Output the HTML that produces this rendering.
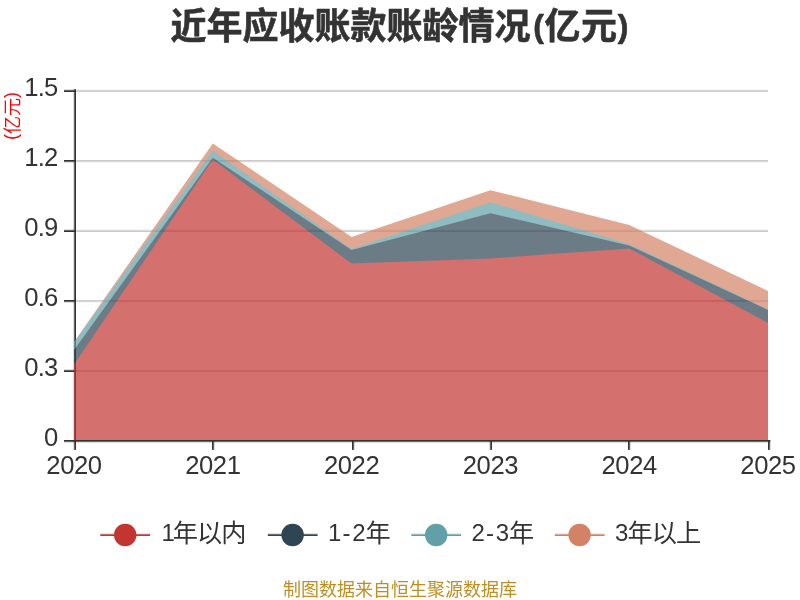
<!DOCTYPE html>
<html lang="zh-CN">
<head>
<meta charset="utf-8">
<title>近年应收账款账龄情况(亿元)</title>
<style>
  html, body { margin: 0; padding: 0; background: #ffffff; }
  body { width: 800px; height: 600px; overflow: hidden; }
  svg { display: block; will-change: transform; font-family: "Liberation Sans", "Noto Sans CJK SC", sans-serif; }
  .axis-label { font-size: 25.6px; fill: #333333; }
  .xl { letter-spacing: -0.4px; }
  .yl { letter-spacing: -0.8px; }
  .lc { font-size: 25.2px; letter-spacing: -0.9px; }
  .legend-label { font-size: 24px; fill: #333333; }
</style>
</head>
<body>
<svg width="800" height="600" viewBox="0 0 800 600">
  <defs>
    <clipPath id="gridclip"><rect x="74" y="80" width="694" height="360"/></clipPath>
  </defs>
  <rect x="0" y="0" width="800" height="600" fill="#ffffff"/>

  <!-- title -->
  <text x="399.5" y="38.8" text-anchor="middle" font-size="36" font-weight="bold" fill="#333333" stroke="#333333" stroke-width="0.6" stroke-linejoin="round">近年应收账款账龄情况<tspan font-size="32" dx="2.6" dy="-1.6">(</tspan><tspan dx="0.6" dy="1.6">亿</tspan><tspan dx="0.7">元</tspan><tspan font-size="32" dx="0.7" dy="-1.6">)</tspan></text>

  <!-- y axis name -->
  <text transform="translate(19,116) rotate(-90)" text-anchor="middle" font-size="18" fill="#ff0000"><tspan dy="-1.7">(</tspan><tspan dy="1.7">亿元</tspan><tspan dy="-1.7">)</tspan></text>

  <!-- split lines (soft 2px lines, drawn as 1px rows) -->
  <g fill="#cccccc">
    <rect x="76" y="91" width="692" height="1" fill-opacity="1.0"/>
    <rect x="76" y="90" width="692" height="1" fill-opacity="0.74"/>
    <rect x="76" y="89" width="692" height="1" fill-opacity="0.17"/>
    <rect x="76" y="160" width="692" height="1" fill-opacity="1.0"/>
    <rect x="76" y="161" width="692" height="1" fill-opacity="0.74"/>
    <rect x="76" y="162" width="692" height="1" fill-opacity="0.17"/>
    <rect x="76" y="231" width="692" height="1" fill-opacity="1.0"/>
    <rect x="76" y="230" width="692" height="1" fill-opacity="0.74"/>
    <rect x="76" y="229" width="692" height="1" fill-opacity="0.17"/>
    <rect x="76" y="300" width="692" height="1" fill-opacity="1.0"/>
    <rect x="76" y="301" width="692" height="1" fill-opacity="0.74"/>
    <rect x="76" y="302" width="692" height="1" fill-opacity="0.17"/>
    <rect x="76" y="371" width="692" height="1" fill-opacity="1.0"/>
    <rect x="76" y="370" width="692" height="1" fill-opacity="0.74"/>
    <rect x="76" y="369" width="692" height="1" fill-opacity="0.17"/>
  </g>

  <!-- axis lines and ticks -->
  <g fill="#333333">
    <rect x="75" y="89.2" width="1" height="352.8" fill-opacity="1.0"/>
    <rect x="74" y="89.2" width="1" height="352.8" fill-opacity="0.74"/>
    <rect x="73" y="89.2" width="1" height="352.8" fill-opacity="0.17"/>
    <rect x="76" y="440" width="694.3" height="1" fill-opacity="1.0"/>
    <rect x="76" y="441" width="694.3" height="1" fill-opacity="0.74"/>
    <rect x="76" y="442" width="694.3" height="1" fill-opacity="0.17"/>
    <rect x="64" y="91" width="11" height="1" fill-opacity="1.0"/>
    <rect x="64" y="90" width="11" height="1" fill-opacity="0.74"/>
    <rect x="64" y="89" width="11" height="1" fill-opacity="0.17"/>
    <rect x="64" y="160" width="11" height="1" fill-opacity="1.0"/>
    <rect x="64" y="161" width="11" height="1" fill-opacity="0.74"/>
    <rect x="64" y="162" width="11" height="1" fill-opacity="0.17"/>
    <rect x="64" y="231" width="11" height="1" fill-opacity="1.0"/>
    <rect x="64" y="230" width="11" height="1" fill-opacity="0.74"/>
    <rect x="64" y="229" width="11" height="1" fill-opacity="0.17"/>
    <rect x="64" y="300" width="11" height="1" fill-opacity="1.0"/>
    <rect x="64" y="301" width="11" height="1" fill-opacity="0.74"/>
    <rect x="64" y="302" width="11" height="1" fill-opacity="0.17"/>
    <rect x="64" y="371" width="11" height="1" fill-opacity="1.0"/>
    <rect x="64" y="370" width="11" height="1" fill-opacity="0.74"/>
    <rect x="64" y="369" width="11" height="1" fill-opacity="0.17"/>
    <rect x="64" y="440" width="11" height="1" fill-opacity="1.0"/>
    <rect x="64" y="441" width="11" height="1" fill-opacity="0.74"/>
    <rect x="64" y="442" width="11" height="1" fill-opacity="0.17"/>
    <rect x="75" y="440" width="1" height="9.9" fill-opacity="1.0"/>
    <rect x="74" y="440" width="1" height="9.9" fill-opacity="0.74"/>
    <rect x="73" y="440" width="1" height="9.9" fill-opacity="0.17"/>
    <rect x="212" y="440" width="1" height="9.9" fill-opacity="1.0"/>
    <rect x="213" y="440" width="1" height="9.9" fill-opacity="0.74"/>
    <rect x="214" y="440" width="1" height="9.9" fill-opacity="0.17"/>
    <rect x="352" y="440" width="1" height="9.9" fill-opacity="1.0"/>
    <rect x="353" y="440" width="1" height="9.9" fill-opacity="0.74"/>
    <rect x="354" y="440" width="1" height="9.9" fill-opacity="0.17"/>
    <rect x="491" y="440" width="1" height="9.9" fill-opacity="1.0"/>
    <rect x="490" y="440" width="1" height="9.9" fill-opacity="0.74"/>
    <rect x="489" y="440" width="1" height="9.9" fill-opacity="0.17"/>
    <rect x="628" y="440" width="1" height="9.9" fill-opacity="1.0"/>
    <rect x="629" y="440" width="1" height="9.9" fill-opacity="0.74"/>
    <rect x="630" y="440" width="1" height="9.9" fill-opacity="0.17"/>
    <rect x="768" y="440" width="1" height="9.9" fill-opacity="1.0"/>
    <rect x="769" y="440" width="1" height="9.9" fill-opacity="0.74"/>
    <rect x="770" y="440" width="1" height="9.9" fill-opacity="0.17"/>
  </g>

  <!-- stacked areas (opaque overlapping shapes, blended once as a group) -->
  <g clip-path="url(#gridclip)" opacity="0.7" stroke="none">
    <polygon fill="#d48265" points="74,341.9 212.8,143.5 351.6,237 490.4,190.2 629.2,225 768,290.9 768,441 74,441"/>
    <polygon fill="#61a0a8" points="74,342.4 212.8,150.75 351.6,249 490.4,202.3 629.2,244.2 768,309.3 768,441 74,441"/>
    <polygon fill="#2f4554" points="74,350 212.8,157.75 351.6,249.9 490.4,213.3 629.2,245.4 768,309.9 768,441 74,441"/>
    <polygon fill="#c23531" points="74,364.5 212.8,159.5 351.6,263.6 490.4,258.4 629.2,248.4 768,322.9 768,441 74,441"/>
  </g>

  <!-- y axis labels -->
  <g class="axis-label yl" text-anchor="end">
    <text x="57.5" y="96.2">1.5</text>
    <text x="57.5" y="166.2">1.2</text>
    <text x="57.5" y="236.2">0.9</text>
    <text x="57.5" y="306.2">0.6</text>
    <text x="57.5" y="376.2">0.3</text>
    <text x="57.5" y="446.2">0</text>
  </g>

  <!-- x axis labels -->
  <g class="axis-label xl" text-anchor="middle">
    <text x="74" y="474.4">2020</text>
    <text x="212.8" y="474.4">2021</text>
    <text x="351.6" y="474.4">2022</text>
    <text x="490.4" y="474.4">2023</text>
    <text x="629.2" y="474.4">2024</text>
    <text x="768" y="474.4">2025</text>
  </g>

  <!-- legend -->
  <g>
    <g fill="#c23531"><rect x="100.3" y="533" width="49.8" height="1" fill-opacity="0.17"/><rect x="100.3" y="534" width="49.8" height="1" fill-opacity="0.74"/><rect x="100.3" y="535" width="49.8" height="1"/></g>
    <circle cx="125.2" cy="535" r="11.2" fill="#c23531"/>
    <text class="legend-label" x="161.5" y="541">1<tspan class="lc" dx="-2.1" dy="1.2">年以内</tspan></text>

    <g fill="#2f4554"><rect x="267.8" y="533" width="49.8" height="1" fill-opacity="0.17"/><rect x="267.8" y="534" width="49.8" height="1" fill-opacity="0.74"/><rect x="267.8" y="535" width="49.8" height="1"/></g>
    <circle cx="292.6" cy="535" r="11.2" fill="#2f4554"/>
    <text class="legend-label" x="328" y="541">1<tspan dx="1.2">-</tspan><tspan dx="1.8">2</tspan><tspan class="lc" dx="-0.3" dy="1.2">年</tspan></text>

    <g fill="#61a0a8"><rect x="411.3" y="533" width="49.8" height="1" fill-opacity="0.17"/><rect x="411.3" y="534" width="49.8" height="1" fill-opacity="0.74"/><rect x="411.3" y="535" width="49.8" height="1"/></g>
    <circle cx="436.2" cy="535" r="11.2" fill="#61a0a8"/>
    <text class="legend-label" x="471.5" y="541">2<tspan dx="1.2">-</tspan><tspan dx="1.8">3</tspan><tspan class="lc" dx="-0.3" dy="1.2">年</tspan></text>

    <g fill="#d48265"><rect x="554.8" y="533" width="49.8" height="1" fill-opacity="0.17"/><rect x="554.8" y="534" width="49.8" height="1" fill-opacity="0.74"/><rect x="554.8" y="535" width="49.8" height="1"/></g>
    <circle cx="579.6" cy="535" r="11.2" fill="#d48265"/>
    <text class="legend-label" x="615" y="541">3<tspan class="lc" dx="-0.8" dy="1.2">年以上</tspan></text>
  </g>

  <!-- footer -->
  <text x="400" y="596.4" text-anchor="middle" font-size="18" fill="#be8e22">制图数据来自恒生聚源数据库</text>
</svg>
</body>
</html>
